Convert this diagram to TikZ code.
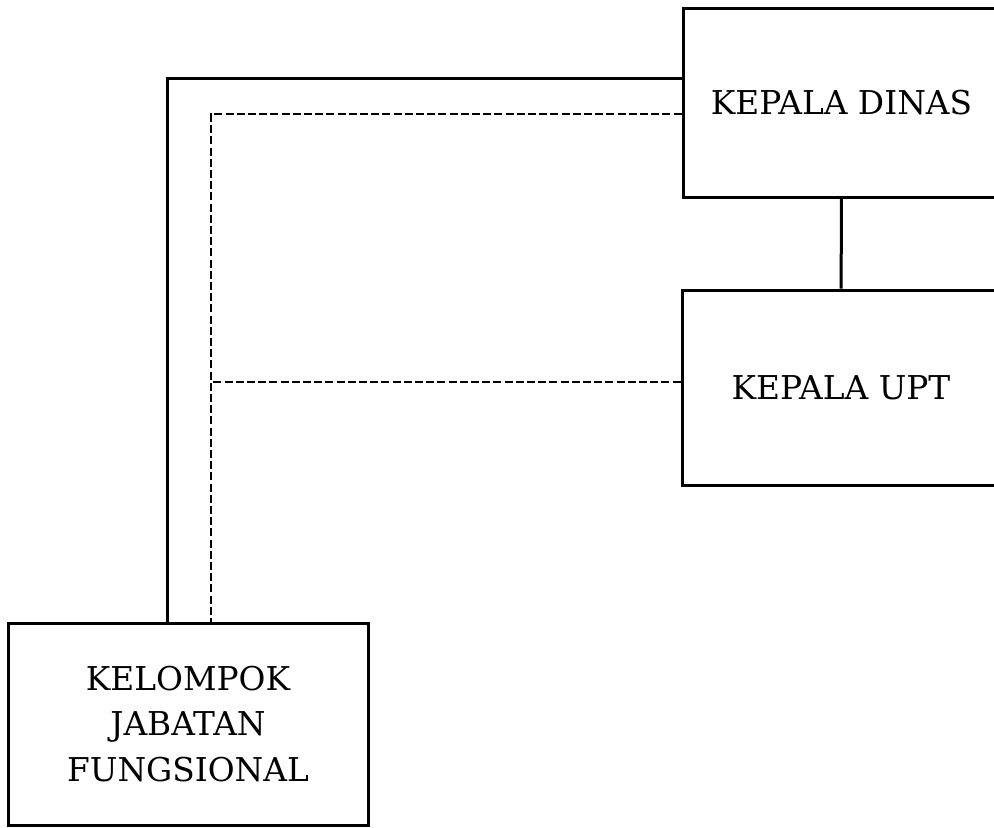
\documentclass[tikz,border=0pt]{standalone}
\usepackage{tikz}
\usepackage{fontspec}
\setmainfont{DejaVu Serif}

\begin{document}
\begin{tikzpicture}[x=0.5pt,y=-0.5pt,
    jabatan/.style={draw,line width=1.5pt,align=center,inner sep=0pt,
        font=\fontsize{16.4}{22.75}\selectfont},
    garis/.style={line width=1.5pt},
    koordinasi/.style={line width=1.2pt,dash pattern=on 4pt off 1.6pt}]
\useasboundingbox (0,0) rectangle (994,827);
\node[jabatan,minimum width=317*0.5pt,minimum height=189*0.5pt] (dinas) at (841.5,102.5) {KEPALA DINAS};
\node[jabatan,minimum width=318*0.5pt,minimum height=195*0.5pt] (upt) at (841,387.5) {KEPALA UPT};
\node[jabatan,minimum width=360*0.5pt,minimum height=202*0.5pt] (kjf) at (188,724) {KELOMPOK\\JABATAN\\FUNGSIONAL};
\coordinate (simpang) at (211,382);
\draw[garis] (dinas) -- (upt);
\draw[garis] (dinas.west |- 0,78) -| (kjf.north -| 167,0);
\draw[koordinasi] (dinas.west |- 0,114) -| (kjf.north -| 211,0);
\draw[koordinasi] (upt.west |- simpang) -- (simpang);
\end{tikzpicture}
\end{document}
